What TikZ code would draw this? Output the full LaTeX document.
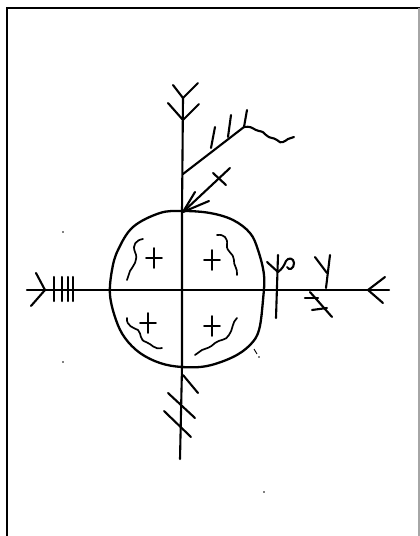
\documentclass[tikz,border=0pt]{standalone}
\begin{document}
\begin{tikzpicture}[x=1pt,y=-1pt,
  ink/.style={line width=2.1pt,line cap=round,line join=round,black},
  thin ink/.style={line width=1.7pt,line cap=round,line join=round,black}]
\useasboundingbox (0,0) rectangle (420,536);
% frame
\draw[line width=1.6pt] (7,536) -- (7,8) -- (420,8);
\draw[line width=1.2pt,black!35] (419,8) -- (419,536);
% named points
\coordinate (vtop) at (183,98);
\coordinate (vbot) at (180,459);
\coordinate (hl) at (27,290);
\coordinate (hr) at (389,290);
% axes
\draw[ink] (vtop) -- (182,212) -- (182,367) -- (vbot);
\draw[ink] (hl) -- (hr);
% top fletching
\draw[ink] (173,85) -- (183,98) -- (198,83);
\draw[ink] (168,103) -- (183,120) -- (199,104);
% branch with ticks and wave
\coordinate (bs) at (183,174);
\coordinate (be) at (244,127);
\draw[ink] (bs) -- (be);
\draw[ink] (211,148) -- (215,127);
\draw[ink] (228,137) -- (231,115);
\draw[ink] (be) -- (247,110);
\draw[ink] (be) .. controls (250,126) and (253,128) .. (256,130)
  .. controls (260,132) and (262,130) .. (266,135)
  .. controls (270,139) and (273,137) .. (277,140)
  .. controls (281,145) and (285,141) .. (288,139)
  -- (294,137);
% arrow into circle top
\coordinate (atip) at (183,212);
\draw[ink] (230,168) -- (atip);
\draw[ink] (213,173) -- (226,185);
\draw[ink] (195,192) -- (atip) -- (209,201);
% circle
\draw[line width=2.3pt] plot[smooth cycle,tension=0.6] coordinates {
  (183,211) (210,213) (233,220) (250,233) (258,250) (264,275) (263,300)
  (259,330) (250,345) (233,357) (207,366) (182,367) (160,363) (140,353)
  (125,338) (116,320) (110,295) (112,270) (118,250) (133,227) (160,213)};
% pluses
\foreach \px/\py in {154/258, 212/260, 148/323, 212/326}{
  \draw[thin ink] (\px-8,\py) -- (\px+8,\py);
  \draw[thin ink] (\px,\py-10) -- (\px,\py+10);
}
% wavy lines in quadrants
\draw[thin ink] (143,239) .. controls (136,240) and (132,245) .. (135,252)
  .. controls (139,260) and (133,266) .. (130,271) -- (127,280);
\draw[thin ink] (217,235) .. controls (224,234) and (228,238) .. (227,245)
  .. controls (226,252) and (234,253) .. (234,260)
  .. controls (233,265) and (238,268) .. (237,275);
\draw[thin ink] (127,318) .. controls (126,326) and (134,328) .. (138,330)
  .. controls (142,334) and (139,340) .. (146,342)
  .. controls (152,344) and (154,350) .. (162,348);
\draw[thin ink] (237,318) .. controls (232,322) and (233,330) .. (229,335)
  .. controls (226,341) and (220,339) .. (215,343)
  .. controls (210,348) and (207,348) .. (202,350) -- (195,355);
% left fletching
\draw[ink] (36,273) -- (45,290) -- (31,306);
\foreach \tx in {54,62,68,73}{\draw[ink] (\tx,277) -- (\tx,301);}
% right end
\draw[ink] (385,277) -- (368,290) -- (383,303);
% right symbols
\draw[ink] (278,255) -- (276,318);
\draw[ink] (267,262) -- (278,272);
\draw[ink] (278,272) .. controls (282,269) and (284,266) .. (286,261)
  .. controls (288,257) and (294,258) .. (294,263)
  .. controls (294,269) and (289,271) .. (287,267);
\draw[ink] (330,255) -- (326,288);
\draw[ink] (315,257) -- (327,273);
\draw[ink] (310,292) -- (332,317);
\draw[ink] (305,298) -- (318,298);
\draw[ink] (312,310) -- (327,308);
% bottom fletching
\draw[ink] (183,375) -- (198,393);
\draw[ink] (168,393) -- (195,418);
\draw[ink] (164,411) -- (191,437);
% specks
\fill (63,232) circle (0.9);
\fill (63,362) circle (0.9);
\fill (264,492) circle (0.8);
\draw[line width=0.9pt] (254,349) -- (257,354);
\fill (259,357) circle (0.8);
\end{tikzpicture}
\end{document}
